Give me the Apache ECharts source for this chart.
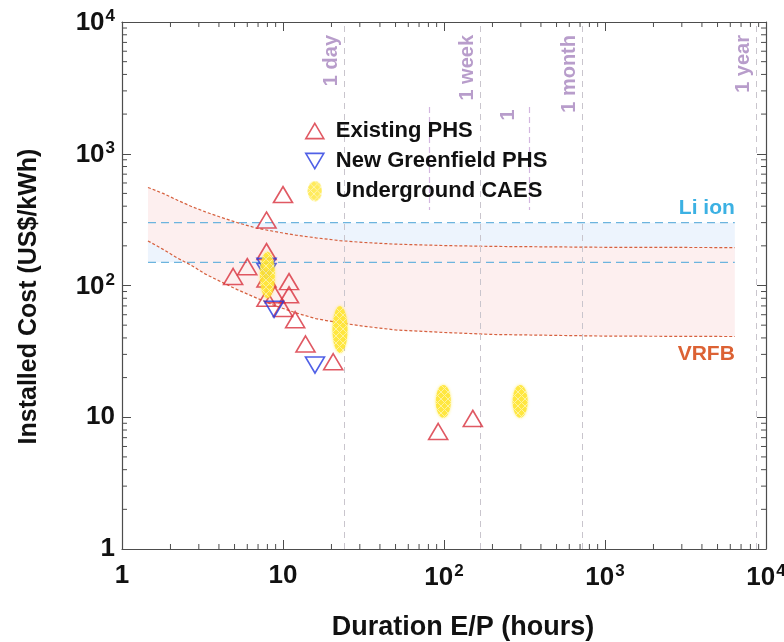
<!DOCTYPE html>
<html>
<head>
<meta charset="utf-8">
<title>Installed cost vs duration</title>
<script src="https://cdn.jsdelivr.net/npm/echarts@6/dist/echarts.min.js"></script>
<style>
  html, body { margin: 0; padding: 0; background: #fff; }
  #chart { width: 784px; height: 642px; }
</style>
</head>
<body>
<div id="chart"></div>
<script>
// --- data (hours, US$/kWh) ---
const phsHours = [10, 7.9, 7.9, 6.0, 4.9, 10.9, 10.9, 8.9, 7.9, 10, 11.9, 13.8, 20.5, 92, 151, 7.9]
const phsCost = [490, 314, 181, 139, 117, 107, 85, 85, 80, 67, 55, 36, 26.4, 7.8, 9.8, 112]

const greenHours = [8.8, 15.8, 7.9, 7.9]
const greenCost = [66, 24.9, 140, 128]

const caesHours = [8, 22.6, 99, 297]
const caesLow = [80, 30.7, 9.9, 9.9]
const caesHigh = [180, 70, 17.6, 17.6]

const liHours = [1.45, 6400]
const liLow = [150, 150]
const liHigh = [300, 300]

const vrfbHours = [1.45, 1.8, 2.2, 2.7, 3.3, 4.1, 5.2, 6.9, 9, 12, 16, 22.6, 32, 50, 100, 200, 1000, 6400]
const vrfbLow = [218, 188, 162, 142, 122, 107, 93, 80, 70, 62, 56, 52, 49, 46, 44, 42.5, 41.3, 41]
const vrfbHigh = [555, 500, 445, 398, 362, 330, 300, 272, 256, 241, 230, 219, 212, 206, 201, 198, 195, 194]

const periodHours = [24, 168, 720, 8760]
const periodNames = ['1 day', '1 week', '1 month', '1 year']

const decades = [1, 10, 100, 1000]
const minorSteps = [2, 3, 4, 5, 6, 7, 8, 9]

const FONT = '"Liberation Sans", Arial, sans-serif'
const AXIS = '#4d4d4d'
const RED = '#d8303c'
const BLUE = '#2438e0'
const LAVENDER = '#b89dcb'
const VRFB_LINE = '#d6603e'
const LI_LINE = '#6cb4de'

const minorTicks = []
decades.forEach(d => minorSteps.forEach(s => minorTicks.push(d * s)))

// cross-hatched yellow fill for the CAES ellipses
const hatch = document.createElement('canvas')
hatch.width = 7
hatch.height = 7
const hc = hatch.getContext('2d')
hc.fillStyle = '#ffe635'
hc.fillRect(0, 0, 7, 7)
hc.strokeStyle = '#fff4a0'
hc.lineWidth = 1
hc.beginPath()
hc.moveTo(0, 0); hc.lineTo(7, 7)
hc.moveTo(7, 0); hc.lineTo(0, 7)
hc.stroke()

const iconCanvas = document.createElement('canvas')
iconCanvas.width = 16
iconCanvas.height = 22
const ic = iconCanvas.getContext('2d')
ic.globalAlpha = 0.8
ic.fillStyle = ic.createPattern(hatch, 'repeat')
ic.beginPath()
ic.ellipse(8, 11, 7.5, 10.5, 0, 0, Math.PI * 2)
ic.fill()

const UP = 'path://M10,0L20,17L0,17Z'
const DOWN = 'path://M0,0L20,0L10,17Z'

const pow10Label = (v) => {
  if (v === 1) return '{b|1}'
  if (v === 10) return '{b|10}'
  return '{b|10}{s|' + Math.round(Math.log10(v)) + '}'
}
const labelRich = {
  b: { fontSize: 26, fontWeight: 'bold', fontFamily: FONT, color: '#111', verticalAlign: 'bottom' },
  s: { fontSize: 17, fontWeight: 'bold', fontFamily: FONT, color: '#111', verticalAlign: 'bottom', padding: [0, 0, 11, 1] }
}

const logAxis = (extra) => Object.assign({
  type: 'log',
  logBase: 10,
  min: 1,
  max: 10000,
  axisLine: { show: true, onZero: false, lineStyle: { color: AXIS, width: 1.2 } },
  axisTick: { inside: true, length: 9, lineStyle: { color: AXIS, width: 1 } },
  splitLine: { show: false },
  minorTick: { show: false }
}, extra)

// log minor ticks (2..9 per decade) on all four sides
const tickSeries = (dir) => ({
  type: 'custom',
  silent: true,
  z: 7,
  clip: false,
  data: minorTicks.map(v => dir === 'x' ? [v, 1] : [1, v]),
  renderItem: (params, api) => {
    const cs = params.coordSys
    const stroke = { stroke: AXIS, lineWidth: 1 }
    if (dir === 'x') {
      const x = api.coord([api.value(0), 1])[0]
      const b = cs.y + cs.height
      return { type: 'group', children: [
        { type: 'line', shape: { x1: x, y1: b, x2: x, y2: b - 5 }, style: stroke },
        { type: 'line', shape: { x1: x, y1: cs.y, x2: x, y2: cs.y + 5 }, style: stroke }
      ] }
    }
    const y = api.coord([1, api.value(1)])[1]
    const r = cs.x + cs.width
    return { type: 'group', children: [
      { type: 'line', shape: { x1: cs.x, y1: y, x2: cs.x + 5, y2: y }, style: stroke },
      { type: 'line', shape: { x1: r, y1: y, x2: r - 5, y2: y }, style: stroke }
    ] }
  }
})

const chart = echarts.init(document.getElementById('chart'), null, { renderer: 'canvas' })

const option = {
  backgroundColor: '#fff',
  animation: false,
  grid: { left: 122, right: 18, top: 22, bottom: 93, outerBoundsMode: 'none', containLabel: false },
  legend: {
    orient: 'vertical',
    left: 300,
    top: 115,
    itemWidth: 18,
    itemHeight: 21,
    itemGap: 8,
    symbolKeepAspect: true,
    z: 6,
    textStyle: { fontSize: 22, fontWeight: 'bold', fontFamily: FONT, color: '#111', padding: [0, 0, 0, 7] },
    data: [
      { name: 'Existing PHS', icon: UP, itemStyle: { color: 'rgba(0,0,0,0)', borderColor: RED, borderWidth: 1.6 } },
      { name: 'New Greenfield PHS', icon: DOWN, itemStyle: { color: 'rgba(0,0,0,0)', borderColor: BLUE, borderWidth: 1.6 } },
      { name: 'Underground CAES', icon: 'image://' + iconCanvas.toDataURL() }
    ]
  },
  graphic: [
    // white box behind the legend that hides part of the period lines
    { type: 'rect', left: 348, top: 107, shape: { width: 229, height: 103 }, style: { fill: '#fff' }, z: 3 }
  ],
  xAxis: [
    logAxis({
      position: 'bottom',
      axisLabel: { margin: 14, formatter: pow10Label, rich: labelRich },
      name: 'Duration E/P (hours)',
      nameLocation: 'middle',
      nameGap: 65,
      nameTextStyle: { fontSize: 27, fontWeight: 'bold', fontFamily: FONT, color: '#111', padding: [0, 0, 0, 38] }
    }),
    logAxis({ position: 'top', axisLabel: { show: false } })
  ],
  yAxis: [
    logAxis({
      position: 'left',
      axisLabel: { margin: 7, formatter: pow10Label, rich: labelRich },
      name: 'Installed Cost (US$/kWh)',
      nameLocation: 'middle',
      nameRotate: 90,
      nameGap: 80,
      nameTextStyle: { fontSize: 25, fontWeight: 'bold', fontFamily: FONT, color: '#111', padding: [0, 22, 0, 0] }
    }),
    logAxis({ position: 'right', axisLabel: { show: false } })
  ],
  series: [
    // VRFB band fill between the two read curves
    {
      name: 'VRFB band',
      type: 'custom',
      silent: true,
      z: 1,
      data: [[vrfbHours[0], vrfbLow[0]]],
      renderItem: (params, api) => {
        const upper = vrfbHours.map((h, i) => api.coord([h, vrfbHigh[i]]))
        const lower = vrfbHours.map((h, i) => api.coord([h, vrfbLow[i]])).reverse()
        return { type: 'polygon', shape: { points: upper.concat(lower) }, style: { fill: '#fdefef' } }
      }
    },
    {
      name: 'VRFB high',
      type: 'line',
      symbol: 'none',
      z: 2.6,
      lineStyle: { type: [3, 2], color: VRFB_LINE, width: 1.2 },
      data: vrfbHours.map((h, i) => [h, vrfbHigh[i]])
    },
    {
      name: 'VRFB low',
      type: 'line',
      symbol: 'none',
      z: 2.6,
      lineStyle: { type: [3, 2], color: VRFB_LINE, width: 1.2 },
      data: vrfbHours.map((h, i) => [h, vrfbLow[i]]),
      markPoint: {
        silent: true,
        symbol: 'circle',
        symbolSize: 0,
        label: {
          show: true, formatter: 'VRFB', position: [0, 0], align: 'right', verticalAlign: 'top', offset: [0, 7],
          color: '#dc6234', fontSize: 21, fontWeight: 'bold', fontFamily: FONT
        },
        data: [{ coord: [vrfbHours[vrfbHours.length - 1], vrfbLow[vrfbLow.length - 1]] }]
      }
    },
    {
      name: 'periods',
      type: 'line',
      data: [],
      z: 2,
      markLine: {
        silent: true,
        symbol: ['none', 'none'],
        lineStyle: { type: [6, 5], color: '#c9c5cd', width: 1 },
        label: {
          show: true,
          position: 'insideEndTop',
          distance: [13, 3],
          formatter: '{b}',
          color: LAVENDER,
          fontSize: 20,
          fontWeight: 'bold',
          fontFamily: FONT
        },
        data: periodHours.map((h, i) => ({ xAxis: h, name: periodNames[i] }))
      }
    },
    {
      name: 'Li low',
      type: 'line',
      symbol: 'none',
      z: 2.5,
      lineStyle: { type: [8, 5], color: LI_LINE, width: 1.3 },
      data: liHours.map((h, i) => [h, liLow[i]]),
      markArea: {
        silent: true,
        itemStyle: { color: 'rgba(200,222,250,0.32)' },
        data: [[{ coord: [liHours[0], liLow[0]] }, { coord: [liHours[1], liHigh[1]] }]]
      }
    },
    {
      name: 'Li high',
      type: 'line',
      symbol: 'none',
      z: 2.5,
      lineStyle: { type: [8, 5], color: LI_LINE, width: 1.3 },
      data: liHours.map((h, i) => [h, liHigh[i]]),
      markPoint: {
        silent: true,
        symbol: 'circle',
        symbolSize: 0,
        label: {
          show: true, formatter: 'Li ion', position: [0, 0], align: 'right', verticalAlign: 'bottom', offset: [0, -4],
          color: '#3cb1e3', fontSize: 21, fontWeight: 'bold', fontFamily: FONT
        },
        data: [{ coord: [liHours[1], liHigh[1]] }]
      }
    },
    {
      name: 'overlay',
      type: 'line',
      data: [],
      z: 4,
      markLine: {
        silent: true,
        symbol: ['none', 'none'],
        label: { show: false },
        lineStyle: { type: [6, 4], color: '#d3b6e0', width: 1.2 },
        data: [
          [{ coord: [80.7, 2264] }, { coord: [80.7, 374] }],
          [{ coord: [337, 2264] }, { coord: [337, 374] }]
        ]
      },
      markPoint: {
        silent: true,
        symbol: 'circle',
        symbolSize: 0,
        label: { show: true, formatter: '1', rotate: 90, color: LAVENDER, fontSize: 20, fontWeight: 'bold', fontFamily: FONT },
        data: [{ coord: [253, 1968] }]
      }
    },
    {
      name: 'Existing PHS',
      type: 'scatter',
      symbol: UP,
      symbolSize: [19, 16],
      z: 5,
      itemStyle: { color: 'rgba(0,0,0,0)', borderColor: RED, borderWidth: 1.6 },
      data: phsHours.map((h, i) => [h, phsCost[i]])
    },
    {
      name: 'New Greenfield PHS',
      type: 'scatter',
      symbol: DOWN,
      symbolSize: [19, 16],
      z: 5,
      itemStyle: { color: 'rgba(0,0,0,0)', borderColor: BLUE, borderWidth: 1.6 },
      data: greenHours.map((h, i) => [h, greenCost[i]])
    },
    {
      name: 'Underground CAES',
      type: 'custom',
      z: 6,
      data: caesHours.map((h, i) => [h, caesLow[i], caesHigh[i]]),
      renderItem: (params, api) => {
        const top = api.coord([api.value(0), api.value(2)])
        const bot = api.coord([api.value(0), api.value(1)])
        return {
          type: 'ellipse',
          shape: { cx: top[0], cy: (top[1] + bot[1]) / 2, rx: 7.5, ry: (bot[1] - top[1]) / 2 },
          style: { fill: { image: hatch, repeat: 'repeat' }, opacity: 0.85, shadowBlur: 3, shadowColor: 'rgba(255,225,0,0.6)' }
        }
      }
    },
    tickSeries('x'),
    tickSeries('y')
  ]
}

chart.setOption(option)
window.addEventListener('resize', () => chart.resize())
</script>
</body>
</html>
